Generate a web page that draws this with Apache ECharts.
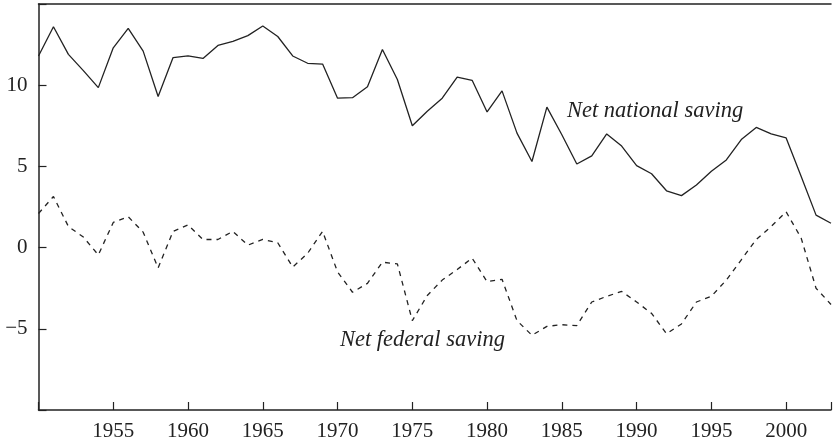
<!DOCTYPE html>
<html>
<head>
<meta charset="utf-8">
<script src="https://cdn.jsdelivr.net/npm/echarts@6/dist/echarts.min.js"></script>
<style>
  html, body { margin: 0; padding: 0; background: #fff; }
  #chart { width: 834px; height: 443px; }
</style>
</head>
<body>
<div id="chart"></div>
<script>
// Years 1950..2003, percent of NNP
const years = [];
for (let y = 1950; y <= 2003; y++) years.push(y);

const nationalSaving = [
  11.8, 13.6, 11.9, 10.9, 9.85, 12.3, 13.5, 12.1, 9.3, 11.7,
  11.8, 11.65, 12.45, 12.7, 13.05, 13.65, 13.0, 11.8, 11.35, 11.3,
  9.2, 9.23, 9.9, 12.2, 10.35, 7.5, 8.4, 9.2, 10.5, 10.3,
  8.35, 9.65, 7.05, 5.3, 8.65, 6.95, 5.15, 5.65, 7.0, 6.25,
  5.05, 4.55, 3.5, 3.2, 3.85, 4.7, 5.4, 6.65, 7.4, 7.0,
  6.75, 4.4, 2.0, 1.5
];

const federalSaving = [
  2.1, 3.15, 1.3, 0.65, -0.45, 1.55, 1.9, 0.95, -1.25, 1.0,
  1.4, 0.5, 0.5, 1.0, 0.15, 0.5, 0.3, -1.2, -0.35, 1.0,
  -1.5, -2.75, -2.2, -0.9, -1.0, -4.5, -2.95, -2.0, -1.35, -0.65,
  -2.1, -1.95, -4.5, -5.4, -4.85, -4.75, -4.8, -3.35, -3.0, -2.7,
  -3.35, -4.05, -5.3, -4.7, -3.35, -3.0, -2.0, -0.75, 0.5, 1.3,
  2.2, 0.6, -2.5, -3.5
];

const yTickLabels = [-5, 0, 5, 10];
const xTickLabels = [1955, 1960, 1965, 1970, 1975, 1980, 1985, 1990, 1995, 2000];

const ink = '#222';
const serif = '"Liberation Serif", "DejaVu Serif", serif';

const chart = echarts.init(document.getElementById('chart'), null, { renderer: 'canvas' });

chart.setOption({
  backgroundColor: '#fff',
  animation: false,
  grid: { left: 38.5, right: -2, top: 4, bottom: 33 },
  xAxis: [{
    type: 'value',
    min: 1950,
    max: 2003,
    interval: 5,
    axisLine: { onZero: false, lineStyle: { color: ink, width: 1.5 } },
    axisTick: { inside: true, length: 8, lineStyle: { color: ink, width: 1.2 } },
    axisLabel: {
      color: ink, fontFamily: serif, fontSize: 21, margin: 11,
      formatter: v => xTickLabels.includes(v) ? String(v) : ''
    },
    splitLine: { show: false }
  }, {
    type: 'value',
    position: 'top',
    min: 1950,
    max: 2003,
    axisLine: { show: true, onZero: false, lineStyle: { color: ink, width: 1.5 } },
    axisTick: { show: false },
    axisLabel: { show: false },
    splitLine: { show: false }
  }],
  yAxis: {
    type: 'value',
    min: -10,
    max: 15,
    interval: 5,
    axisLine: { show: true, onZero: false, lineStyle: { color: ink, width: 1.5 } },
    axisTick: { inside: true, length: 8, lineStyle: { color: ink, width: 1.2 } },
    axisLabel: {
      color: ink, fontFamily: serif, fontSize: 21, margin: 11,
      formatter: v => yTickLabels.includes(v) ? String(v).replace('-', '\u2212') : ''
    },
    splitLine: { show: false }
  },
  series: [
    {
      name: 'Net national saving',
      type: 'line',
      data: years.map((y, i) => [y, nationalSaving[i]]),
      showSymbol: false,
      lineStyle: { color: ink, width: 1.3 }
    },
    {
      name: 'Net federal saving',
      type: 'line',
      data: years.map((y, i) => [y, federalSaving[i]]),
      showSymbol: false,
      lineStyle: { color: ink, width: 1.3, type: [5, 5] }
    }
  ],
  graphic: [
    {
      type: 'text', left: 567, top: 100,
      style: { text: 'Net national saving', fill: ink, font: 'italic 22.5px ' + serif }
    },
    {
      type: 'text', left: 340, top: 329,
      style: { text: 'Net federal saving', fill: ink, font: 'italic 22.5px ' + serif }
    }
  ]
});
</script>
</body>
</html>
